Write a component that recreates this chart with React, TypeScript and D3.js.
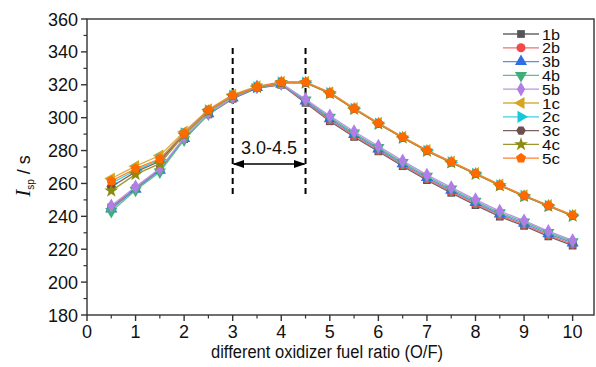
import React from "react";
import * as d3 from "d3";

const xs = [0.5, 1, 1.5, 2, 2.5, 3, 3.5, 4, 4.5, 5, 5.5, 6, 6.5, 7, 7.5, 8, 8.5, 9, 9.5, 10];

const s1b = [245.5, 257, 268.5, 287, 302, 311.5, 318, 320, 309, 297.8, 288.3, 279.5, 270.5, 262, 254.3, 246.8, 239.8, 234.2, 227.8, 222.2];
const s2b = [245, 256.8, 268.2, 287.2, 302.2, 311.8, 318.2, 320.2, 309.6, 298.6, 289, 280.2, 271.2, 262.8, 255, 247.6, 240.6, 235, 228.6, 223];
const s3b = [244.5, 256.5, 268, 287.3, 302.4, 312, 318.4, 320.4, 310.2, 299.4, 289.8, 281, 272, 263.6, 255.8, 248.4, 241.4, 235.8, 229.4, 223.8];
const s4b = [243, 255.8, 267, 286.5, 302.2, 312.2, 318.6, 320.6, 310.8, 300.2, 290.6, 281.8, 272.8, 264.4, 256.6, 249.2, 242.2, 236.6, 230.2, 224.6];
const s5b = [246.5, 258, 269, 288, 302.8, 312.5, 318.8, 320.8, 311.2, 301.2, 291.6, 282.8, 273.8, 265.2, 257.6, 250.2, 243.2, 237.4, 231, 225.4];
const s1c = [263, 270.5, 277, 291.5, 305, 314, 319, 321.8, 321.8, 315.4, 305.8, 296.8, 288.3, 280.3, 273.3, 266.3, 259.3, 252.8, 246.8, 240.8];
const s2c = [260, 268, 274.5, 290.5, 304.5, 313.5, 318.6, 321.5, 321.4, 315, 305.4, 296.4, 287.9, 279.9, 272.9, 265.9, 258.9, 252.4, 246.4, 240.4];
const s3c = [258, 267, 273.5, 290, 304.2, 313.4, 318.5, 321.4, 321.3, 314.8, 305.3, 296.3, 287.8, 279.8, 272.8, 265.8, 258.8, 252.3, 246.3, 240.3];
const s4c = [255.5, 265.5, 272, 289.5, 303.8, 313.2, 318.4, 321.3, 321.2, 314.7, 305.2, 296.2, 287.7, 279.7, 272.7, 265.7, 258.7, 252.2, 246.2, 240.2];
const s5c = [261.5, 269, 275, 290.5, 304.6, 313.6, 318.7, 321.6, 321.6, 315.2, 305.6, 296.6, 288.1, 280.1, 273.1, 266.1, 259.1, 252.6, 246.6, 240.6];

const names = ["1b", "2b", "3b", "4b", "5b", "1c", "2c", "3c", "4c", "5c"];
const seriesValues = [s1b, s2b, s3b, s4b, s5b, s1c, s2c, s3c, s4c, s5c];
const colors = ["#555555", "#f04a4a", "#2f6fe0", "#3fae78", "#b07ee6", "#d4a520", "#19c8d8", "#6e4e4e", "#8c8a10", "#ff6a00"];
const lineColors = ["#666666", "#f27070", "#5a8ee0", "#5fbf90", "#bb95e8", "#d8b040", "#40d0e0", "#806060", "#9a9830", "#ff8030"];

const xTicks = [0, 1, 2, 3, 4, 5, 6, 7, 8, 9, 10];
const yTicks = [180, 200, 220, 240, 260, 280, 300, 320, 340, 360];
const regionLines = [3, 4.5];
const regionLabel = "3.0-4.5";

const W = 596, H = 367;
const L = 87, R = 594, T = 19, B = 315;

const x = d3.scaleLinear().domain([0, 10.44]).range([L, R]);
const y = d3.scaleLinear().domain([180, 360]).range([B, T]);

function polygon(n: number, r: number, rot: number) {
  const pts: string[] = [];
  for (let i = 0; i < n; i++) {
    const a = rot + (i * 2 * Math.PI) / n;
    pts.push(`${(r * Math.cos(a)).toFixed(2)},${(r * Math.sin(a)).toFixed(2)}`);
  }
  return "M" + pts.join("L") + "Z";
}

function markerPath(i: number): { d: string; rot: number } {
  const sz = 64;
  switch (i) {
    case 0: return { d: d3.symbol(d3.symbolSquare, 60)()!, rot: 0 };
    case 1: return { d: d3.symbol(d3.symbolCircle, sz)()!, rot: 0 };
    case 2: return { d: d3.symbol(d3.symbolTriangle, sz)()!, rot: 0 };
    case 3: return { d: d3.symbol(d3.symbolTriangle, sz)()!, rot: 180 };
    case 4: return { d: d3.symbol(d3.symbolDiamond, 60)()!, rot: 0 };
    case 5: return { d: d3.symbol(d3.symbolTriangle, sz)()!, rot: -90 };
    case 6: return { d: d3.symbol(d3.symbolTriangle, sz)()!, rot: 90 };
    case 7: return { d: polygon(6, 4.8, 0), rot: 0 };
    case 8: return { d: d3.symbol(d3.symbolStar, 60)()!, rot: 0 };
    default: return { d: polygon(5, 5.2, -Math.PI / 2), rot: 0 };
  }
}

export default function App() {
  const line = d3.line<number>().x((_, i) => x(xs[i])).y((v) => y(v));
  const font = "'Liberation Sans', Arial, sans-serif";
  const minorY = d3.range(190, 360, 20);
  const minorX = d3.range(0.5, 10.5, 1);
  const arrowY = 164;
  return (
    <svg width={W} height={H} style={{ position: "absolute", left: 0, top: 0 }} fontFamily={font}>
      <defs>
        <marker id="ah" viewBox="0 0 10 10" refX="9" refY="5" markerWidth="8" markerHeight="8" orient="auto-start-reverse">
          <path d="M0,1.5 L10,5 L0,8.5 Z" fill="#000" />
        </marker>
      </defs>
      <rect x={0} y={0} width={W} height={H} fill="#fff" />
      <rect x={L} y={T} width={R - L} height={B - T} fill="none" stroke="#333" strokeWidth={1.4} />
      {yTicks.map((t) => (
        <g key={"y" + t}>
          <line x1={L - 6} x2={L} y1={y(t)} y2={y(t)} stroke="#333" strokeWidth={1.4} />
          <text x={L - 9} y={y(t) + 6.5} textAnchor="end" fontSize={18} fill="#111">{t}</text>
        </g>
      ))}
      {minorY.map((t) => (
        <line key={"my" + t} x1={L - 3.5} x2={L} y1={y(t)} y2={y(t)} stroke="#333" strokeWidth={1.2} />
      ))}
      {xTicks.map((t) => (
        <g key={"x" + t}>
          <line x1={x(t)} x2={x(t)} y1={B} y2={B + 6} stroke="#333" strokeWidth={1.4} />
          <text x={x(t)} y={B + 23} textAnchor="middle" fontSize={18} fill="#111">{t}</text>
        </g>
      ))}
      {minorX.map((t) => (
        <line key={"mx" + t} x1={x(t)} x2={x(t)} y1={B} y2={B + 3.5} stroke="#333" strokeWidth={1.2} />
      ))}
      <text x={327} y={358} textAnchor="middle" fontSize={18} fill="#111" textLength={232} lengthAdjust="spacingAndGlyphs">
        different oxidizer fuel ratio (O/F)
      </text>
      <g transform="translate(30,176) rotate(-90)">
        <text textAnchor="middle" fontSize={18} fill="#111">
          <tspan fontFamily="'Liberation Serif', 'Times New Roman', serif" fontStyle="italic" fontSize={21}>I</tspan>
          <tspan fontSize={10} dy={4}>sp</tspan>
          <tspan dy={-4}>{" / s"}</tspan>
        </text>
      </g>
      {regionLines.map((v) => (
        <line key={"r" + v} x1={x(v)} x2={x(v)} y1={48} y2={197} stroke="#000" strokeWidth={2} strokeDasharray="6,4" />
      ))}
      <line x1={x(3) + 1} x2={x(4.5) - 1} y1={arrowY} y2={arrowY} stroke="#000" strokeWidth={1.5} markerStart="url(#ah)" markerEnd="url(#ah)" />
      <text x={(x(3) + x(4.5)) / 2} y={arrowY - 10} textAnchor="middle" fontSize={18} fill="#111">{regionLabel}</text>
      {seriesValues.map((vals, i) => {
        const m = markerPath(i);
        return (
          <g key={names[i]}>
            <path d={line(vals)!} fill="none" stroke={lineColors[i]} strokeWidth={1.3} />
            {vals.map((v, j) => (
              <path key={j} d={m.d} transform={`translate(${x(xs[j])},${y(v)}) rotate(${m.rot})`} fill={colors[i]} />
            ))}
          </g>
        );
      })}
      {names.map((n, i) => {
        const ly = 34 + i * 13.8;
        const m = markerPath(i);
        return (
          <g key={"lg" + n}>
            <line x1={503} x2={539} y1={ly} y2={ly} stroke={lineColors[i]} strokeWidth={1.3} />
            <path d={m.d} transform={`translate(521,${ly}) rotate(${m.rot})`} fill={colors[i]} />
            <text x={542} y={ly + 5.5} fontSize={14.5} fill="#111" textLength={18} lengthAdjust="spacingAndGlyphs">{n}</text>
          </g>
        );
      })}
    </svg>
  );
}
